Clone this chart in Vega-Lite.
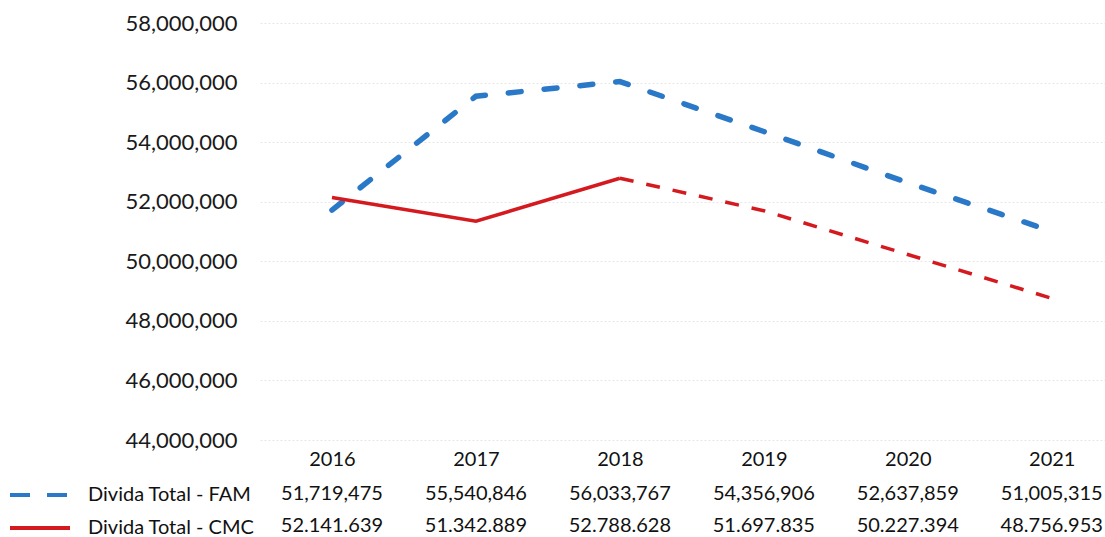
{
  "$schema": "https://vega.github.io/schema/vega-lite/v6.json",
  "autosize": {"type": "none"},
  "width": 845,
  "height": 417,
  "padding": {"left": 260, "top": 23, "right": 0, "bottom": 97},
  "background": "white",
  "config": {"view": {"stroke": null}, "font": "Lato", "text": {"font": "Lato"}},
  "data": {
    "values": [
      {"year": 2016, "series": "Divida Total - FAM", "value": 51719475, "label": "51,719,475"},
      {"year": 2017, "series": "Divida Total - FAM", "value": 55540846, "label": "55,540,846"},
      {"year": 2018, "series": "Divida Total - FAM", "value": 56033767, "label": "56,033,767"},
      {"year": 2019, "series": "Divida Total - FAM", "value": 54356906, "label": "54,356,906"},
      {"year": 2020, "series": "Divida Total - FAM", "value": 52637859, "label": "52,637,859"},
      {"year": 2021, "series": "Divida Total - FAM", "value": 51005315, "label": "51,005,315"},
      {"year": 2016, "series": "Divida Total - CMC", "value": 52141639, "label": "52.141.639"},
      {"year": 2017, "series": "Divida Total - CMC", "value": 51342889, "label": "51.342.889"},
      {"year": 2018, "series": "Divida Total - CMC", "value": 52788628, "label": "52.788.628"},
      {"year": 2019, "series": "Divida Total - CMC", "value": 51697835, "label": "51.697.835"},
      {"year": 2020, "series": "Divida Total - CMC", "value": 50227394, "label": "50.227.394"},
      {"year": 2021, "series": "Divida Total - CMC", "value": 48756953, "label": "48.756.953"}
    ]
  },
  "encoding": {
    "x": {
      "field": "year", "type": "quantitative",
      "scale": {"domain": [2015.5, 2021.37], "nice": false, "zero": false},
      "axis": {
        "title": null, "values": [2016, 2017, 2018, 2019, 2020, 2021], "format": "d",
        "domain": false, "ticks": false, "grid": false,
        "labelFontSize": 20, "labelColor": "#111111", "labelPadding": 9, "labelFont": "Lato"
      }
    }
  },
  "layer": [
    {
      "transform": [{"filter": "datum.series === 'Divida Total - FAM'"}],
      "mark": {"type": "line", "strokeWidth": 5.5, "strokeCap": "round", "strokeDash": [13, 23]},
      "encoding": {
        "y": {
          "field": "value", "type": "quantitative",
          "scale": {"domain": [44000000, 58000000], "nice": false, "zero": false},
          "axis": {
            "title": null,
            "values": [44000000, 46000000, 48000000, 50000000, 52000000, 54000000, 56000000, 58000000],
            "format": ",d", "domain": false, "ticks": false, "grid": true,
            "gridColor": "#e6e6e6", "gridDash": [2, 2], "gridWidth": 1,
            "labelFontSize": 22, "labelColor": "#1a1a1a", "labelPadding": 23, "labelFont": "Lato"
          }
        },
        "color": {
          "field": "series", "type": "nominal",
          "scale": {"domain": ["Divida Total - FAM", "Divida Total - CMC"], "range": ["#2a78c8", "#d41a1f"]},
          "legend": {
            "title": null, "orient": "none", "legendX": -252, "legendY": 462, "padding": 0,
            "symbolType": "stroke", "symbolSize": 3600, "symbolStrokeWidth": 4,
            "labelFontSize": 20, "labelColor": "#111111", "labelFont": "Lato", "labelOffset": 16,
            "labelLimit": 400, "clipHeight": 20, "rowPadding": 13,
            "encode": {"symbols": {"update": {"strokeDash": {"signal": "datum.value === 'Divida Total - FAM' ? [20, 17] : [1, 0]"}}}}
          }
        }
      }
    },
    {
      "transform": [{"filter": "datum.series === 'Divida Total - CMC' && datum.year <= 2018"}],
      "mark": {"type": "line", "strokeWidth": 3.5},
      "encoding": {
        "y": {"field": "value", "type": "quantitative"},
        "color": {"field": "series", "type": "nominal"}
      }
    },
    {
      "transform": [{"filter": "datum.series === 'Divida Total - CMC' && datum.year >= 2018"}],
      "mark": {"type": "line", "strokeWidth": 3.5, "strokeDash": [14, 13]},
      "encoding": {
        "y": {"field": "value", "type": "quantitative"},
        "color": {"field": "series", "type": "nominal"}
      }
    },
    {
      "transform": [{"filter": "datum.series === 'Divida Total - FAM'"}],
      "mark": {"type": "text", "fontSize": 20, "color": "#111111", "baseline": "middle", "align": "center", "dy": 54, "font": "Lato"},
      "encoding": {
        "y": {"datum": 44000000, "type": "quantitative"},
        "text": {"field": "label", "type": "nominal"}
      }
    },
    {
      "transform": [{"filter": "datum.series === 'Divida Total - CMC'"}],
      "mark": {"type": "text", "fontSize": 20, "color": "#111111", "baseline": "middle", "align": "center", "dy": 86, "font": "Lato"},
      "encoding": {
        "y": {"datum": 44000000, "type": "quantitative"},
        "text": {"field": "label", "type": "nominal"}
      }
    }
  ]
}
